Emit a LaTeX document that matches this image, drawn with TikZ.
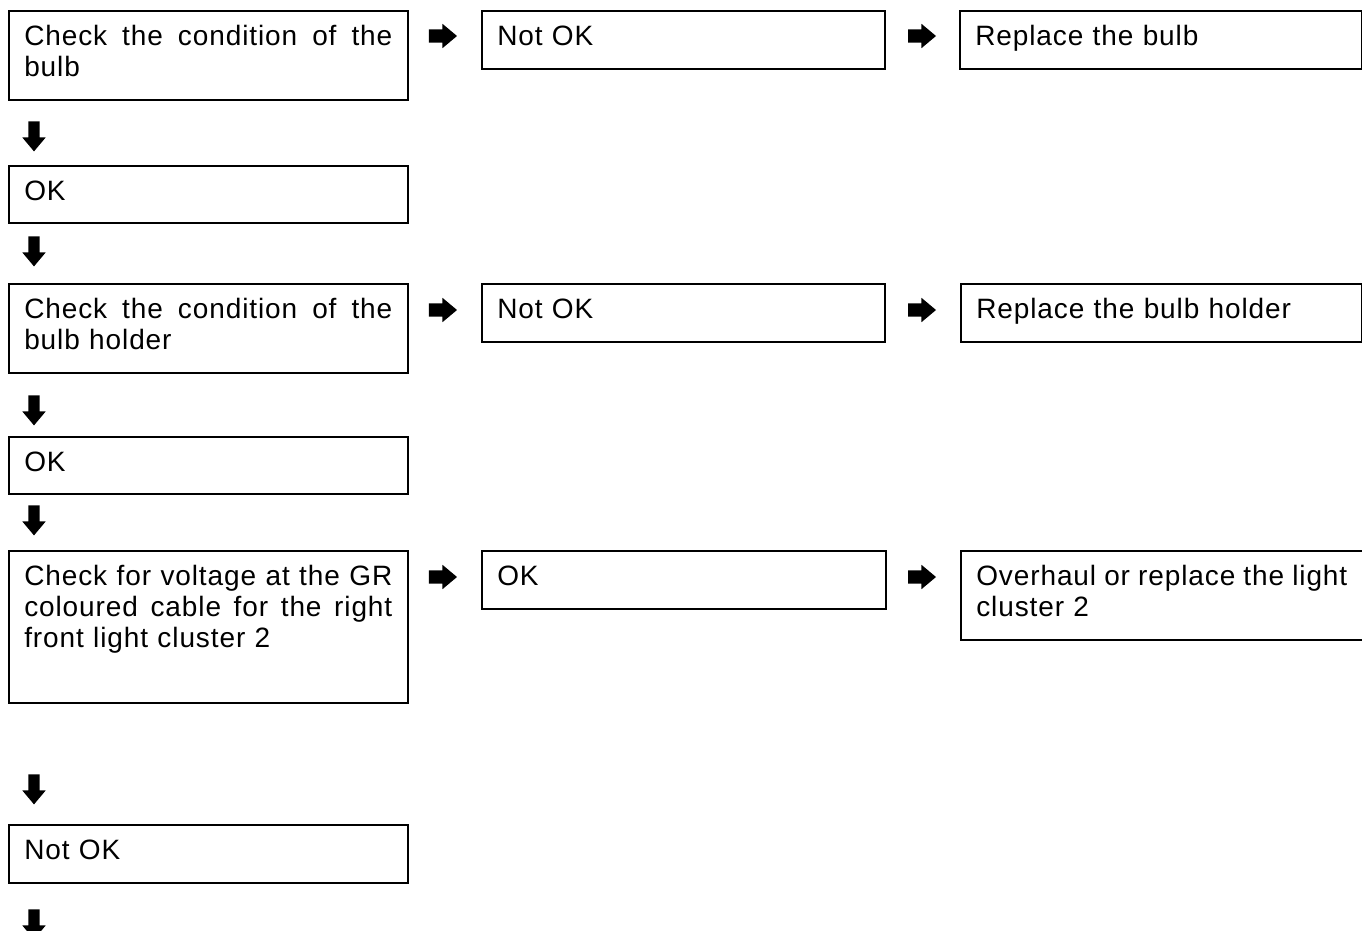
\documentclass[tikz,border=0pt]{standalone}
\usepackage{fontspec}
\setmainfont{Liberation Sans}[LetterSpace=3.2]
\usetikzlibrary{shapes.arrows}
\newcommand\jline[2]{\leavevmode\hbox to #1{#2}}
\tikzset{
  box/.style={draw, line width=1.6pt, anchor=north west, inner xsep=15.5pt, inner ysep=0pt,
    align=left, text height=35pt, font=\fontsize{28}{31}\selectfont},
  darr/.style={single arrow, fill=black, draw=none, minimum height=30pt,
    inner xsep=0pt, inner ysep=5.5pt,
    single arrow head extend=6pt, single arrow tip angle=80, rotate=-90},
  rarr/.style={single arrow, fill=black, draw=none, minimum height=28pt,
    inner xsep=0pt, inner ysep=6.5pt,
    single arrow head extend=5.5pt, single arrow tip angle=80},
}
\begin{document}
\begin{tikzpicture}[x=1pt,y=-1pt]
\useasboundingbox (0,0) rectangle (1362,931);
% column 1
\node[box, text width=368pt, text depth=54pt] (b1) at (8,10) {\jline{368pt}{Check\hfill the\hfill condition\hfill of\hfill the}\\bulb};
\node[box, text width=368pt, text depth=22pt] (ok1) at (8,165) {OK};
\node[box, text width=368pt, text depth=54pt] (b2) at (8,283) {\jline{368pt}{Check\hfill the\hfill condition\hfill of\hfill the}\\bulb holder};
\node[box, text width=368pt, text depth=22pt] (ok2) at (8,436) {OK};
\node[box, text width=368pt, text depth=117pt] (b3) at (8,550) {\jline{368pt}{Check\hfill for\hfill voltage\hfill at\hfill the\hfill GR}\\\jline{368pt}{coloured\hfill cable\hfill for\hfill the\hfill right}\\front light cluster 2};
\node[box, text width=368pt, text depth=23pt] (n3) at (8,824) {Not OK};
% column 2
\node[box, text width=372pt, text depth=23pt] (n1) at (481,10) {Not OK};
\node[box, text width=372pt, text depth=23pt] (n2) at (481,283) {Not OK};
\node[box, text width=373pt, text depth=23pt] (ok3) at (481,550) {OK};
% column 3
\node[box, text width=371pt, text depth=23pt] (r1) at (959,10) {Replace the bulb};
\node[box, text width=370pt, text depth=23pt] (r2) at (960,283) {Replace the bulb holder};
\node[box, text width=371pt, text depth=54pt] (r3) at (960,550) {\jline{371pt}{Overhaul\hfill or\hfill replace\hfill the\hfill light}\\cluster 2};
% down arrows
\node[darr] (d1) at (34,133) {};
\node[darr] (d2) at (34,248) {};
\node[darr] (d3) at (34,407) {};
\node[darr] (d4) at (34,517) {};
\node[darr] (d5) at (34,786) {};
\node[darr] (d6) at (34,921) {};
% right arrows
\node[rarr] (a1) at (439,36) {};
\node[rarr] (a2) at (918,36) {};
\node[rarr] (a3) at (439,310) {};
\node[rarr] (a4) at (918,310) {};
\node[rarr] (a5) at (439,577) {};
\node[rarr] (a6) at (918,577) {};
\end{tikzpicture}
\end{document}
